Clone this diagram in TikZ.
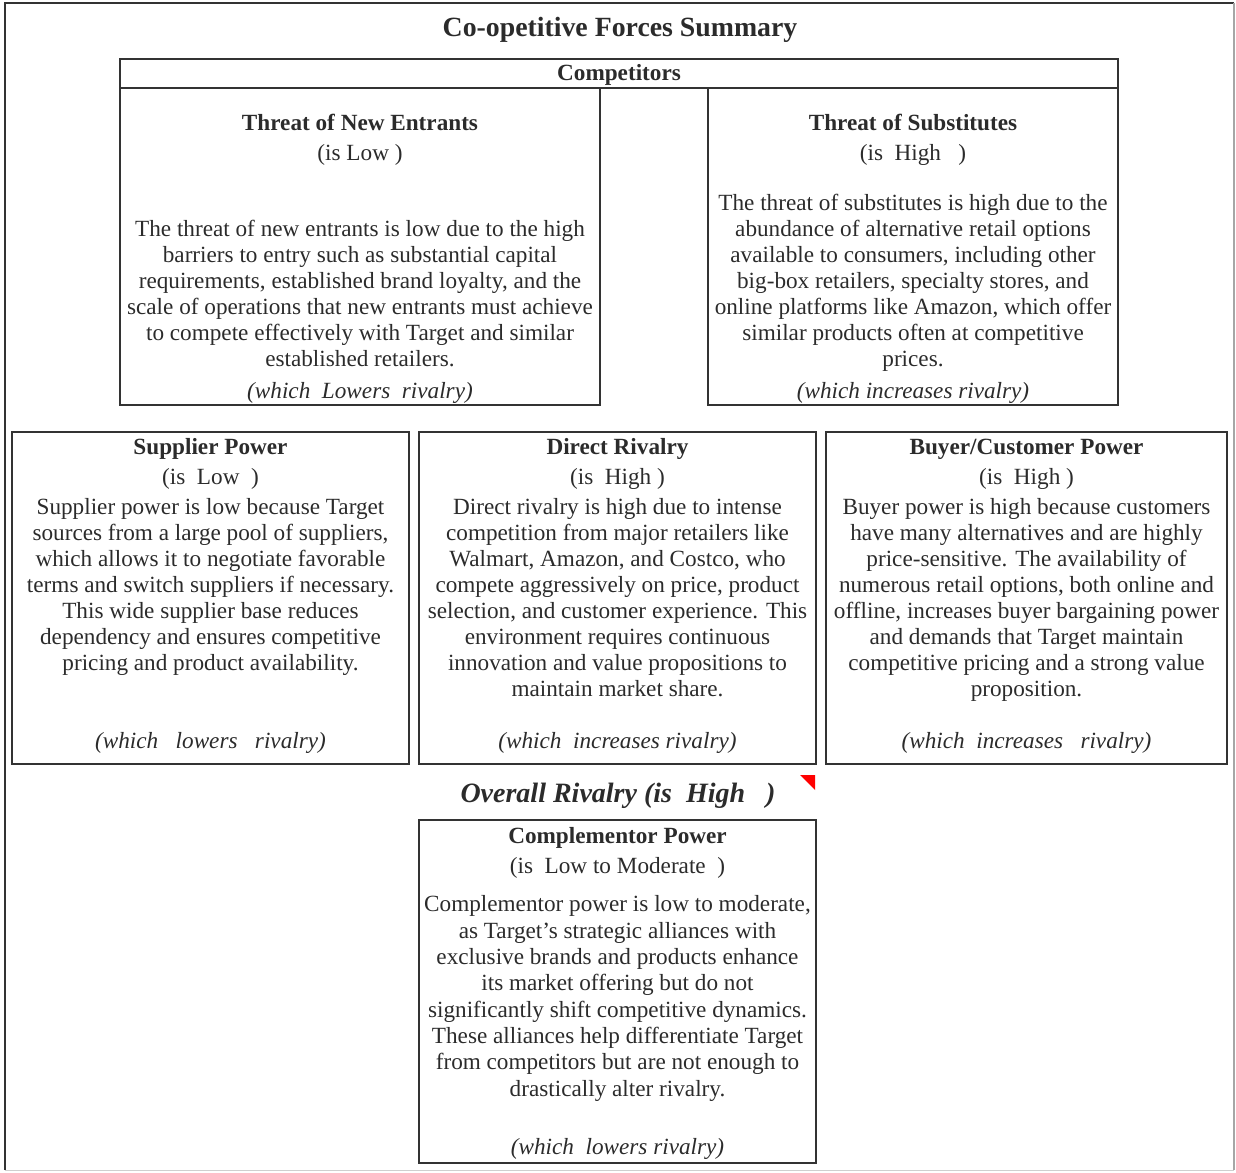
\documentclass[tikz,border=0pt]{standalone}
\usepackage{fontspec}
\setmainfont{Liberation Serif}
\usetikzlibrary{positioning}

\definecolor{inkgray}{HTML}{2B2B2B}
\definecolor{edgegray}{HTML}{CFCFCF}

\tikzset{
	box/.style={draw=black!80, line width=1.4pt, inner sep=0pt},
	hdr/.style={anchor=base, font=\fontsize{23.2}{26}\selectfont\bfseries, text=inkgray},
	lvl/.style={anchor=base, font=\fontsize{23.2}{26}\selectfont, text=inkgray},
	body/.style={anchor=base, align=center, inner sep=0pt, font=\fontsize{23.2}{26}\selectfont, text=inkgray},
	note/.style={anchor=base, font=\fontsize{23.2}{26}\selectfont\itshape, text=inkgray},
}

\begin{document}
\begin{tikzpicture}[x=1pt, y=-1pt]
	\useasboundingbox (0,0) rectangle (1236,1172);

	% sheet frame
	\draw[black!80, line width=1.2pt] (5,1170) -- (5,3) -- (1234,3);
	\draw[gray!70, line width=1.2pt] (1234,3) -- (1234,1170);
	\draw[edgegray, line width=1pt] (1234,1170) -- (5,1170);

	\node[anchor=base, font=\fontsize{27.8}{30}\selectfont\bfseries, text=inkgray] (title) at (620,37) {Co-opetitive Forces Summary};

	% competitors row
	\node[box, minimum width=998pt, minimum height=29pt] (comp) at (619,73.5) {};
	\node[hdr] (compname) at (comp.center) [yshift=-7pt] {Competitors};
	\node[box, minimum width=480pt, minimum height=317pt] (entr) at (360,246.5) {};
	\node[box, minimum width=410pt, minimum height=317pt] (subs) at (913,246.5) {};

	% body nodes sit on the base of their last line
	\node[hdr] (entrname) at (360,130) {Threat of New Entrants};
	\node[lvl] (entrlvl) at (360,160) {(is Low )};
	\node[body] (entrtxt) at (360,366) {The threat of new entrants is low due to the high\\barriers to entry such as substantial capital\\requirements, established brand loyalty, and the\\scale of operations that new entrants must achieve\\to compete effectively with Target and similar\\established retailers.};
	\node[note] (entrnote) at (360,398) {(which\ \ Lowers\ \ rivalry)};

	\node[hdr] (subsname) at (913,130) {Threat of Substitutes};
	\node[lvl] (subslvl) at (913,160) {(is\ \ High\ \ \ )};
	\node[body] (substxt) at (913,366) {The threat of substitutes is high due to the\\abundance of alternative retail options\\available to consumers, including other\\big-box retailers, specialty stores, and\\online platforms like Amazon, which offer\\similar products often at competitive\\prices.};
	\node[note] (subsnote) at (913,398) {(which increases rivalry)};

	% middle row
	\node[box, minimum width=397pt, minimum height=332pt] (supp) at (210.5,598) {};
	\node[box, minimum width=397pt, minimum height=332pt] (riv) at (617.5,598) {};
	\node[box, minimum width=401pt, minimum height=332pt] (buy) at (1026.5,598) {};

	\node[hdr] (suppname) at (210.5,454) {Supplier Power};
	\node[lvl] (supplvl) at (210.5,484) {(is\ \ Low\ \ )};
	\node[body] (supptxt) at (210.5,670) {Supplier power is low because Target\\sources from a large pool of suppliers,\\which allows it to negotiate favorable\\terms and switch suppliers if necessary.\\This wide supplier base reduces\\dependency and ensures competitive\\pricing and product availability.};
	\node[note] (suppnote) at (210.5,748) {(which\ \ \ lowers\ \ \ rivalry)};

	\node[hdr] (rivname) at (617.5,454) {Direct Rivalry};
	\node[lvl] (rivlvl) at (617.5,484) {(is\ \ High )};
	\node[body] (rivtxt) at (617.5,696) {Direct rivalry is high due to intense\\competition from major retailers like\\Walmart, Amazon, and Costco, who\\compete aggressively on price, product\\selection, and customer experience. This\\environment requires continuous\\innovation and value propositions to\\maintain market share.};
	\node[note] (rivnote) at (617.5,748) {(which\ \ increases rivalry)};

	\node[hdr] (buyname) at (1026.5,454) {Buyer/Customer Power};
	\node[lvl] (buylvl) at (1026.5,484) {(is\ \ High )};
	\node[body] (buytxt) at (1026.5,696) {Buyer power is high because customers\\have many alternatives and are highly\\price-sensitive. The availability of\\numerous retail options, both online and\\offline, increases buyer bargaining power\\and demands that Target maintain\\competitive pricing and a strong value\\proposition.};
	\node[note] (buynote) at (1026.5,748) {(which\ \ increases\ \ \ rivalry)};

	% overall verdict
	\node[anchor=base, font=\fontsize{28}{30}\selectfont\bfseries\itshape, text=inkgray] (overall) at (618,802) {Overall Rivalry (is\ \ High\ \ \ )};
	\fill[red] (800,775) -- (815,775) -- (815,790) -- cycle;

	% complementors
	\node[box, minimum width=397pt, minimum height=343pt] (compl) at (617.5,991.5) {};
	\node[hdr] (complname) at (617.5,843) {Complementor Power};
	\node[lvl] (compllvl) at (617.5,873) {(is\ \ Low to Moderate\ \ )};
	\node[body, font=\fontsize{23.2}{26.3}\selectfont] (compltxt) at (617.5,1096) {Complementor power is low to moderate,\\as Target's strategic alliances with\\exclusive brands and products enhance\\its market offering but do not\\significantly shift competitive dynamics.\\These alliances help differentiate Target\\from competitors but are not enough to\\drastically alter rivalry.};
	\node[note] (complnote) at (617.5,1154) {(which\ \ lowers rivalry)};
\end{tikzpicture}
\end{document}
